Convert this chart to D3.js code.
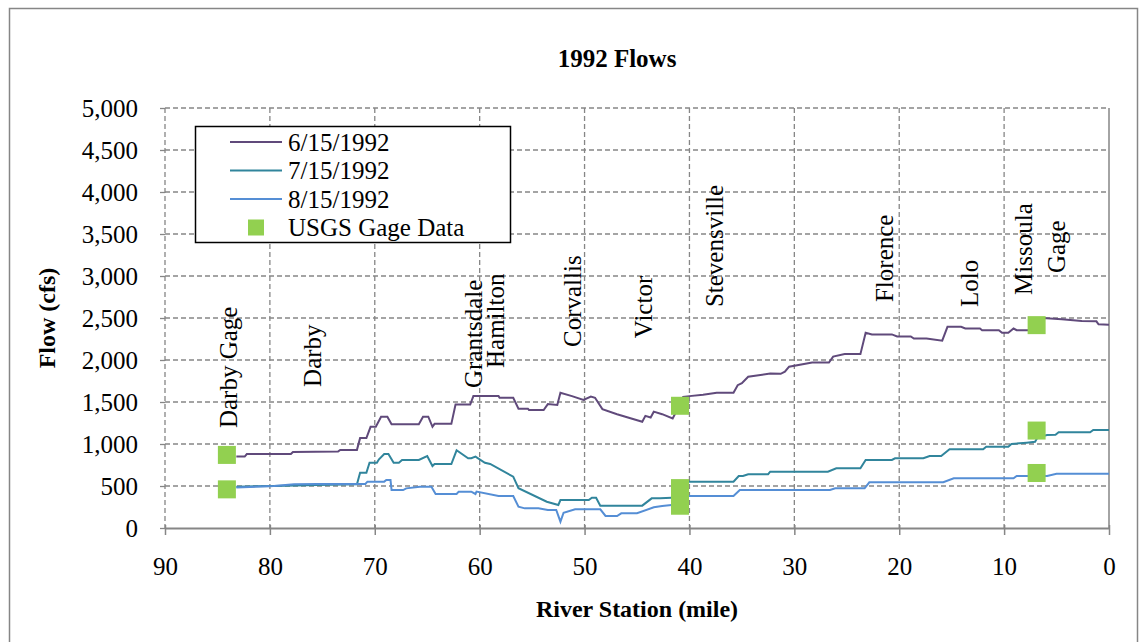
<!DOCTYPE html>
<html>
<head>
<meta charset="utf-8">
<script src="https://cdn.jsdelivr.net/npm/d3@7"></script>
<style>
  body { margin: 0; background: #fff; }
  svg text { font-family: "Liberation Serif", "Times New Roman", serif; }
</style>
</head>
<body>
<div id="chart"></div>
<script>
// river mile / flow (cfs)
const flowJun = [
  [83.2, 850], [82.4, 850], [82.2, 880], [78.0, 880], [77.8, 905], [73.5, 910], [73.3, 930],
  [71.7, 930], [71.4, 1070], [70.8, 1070], [70.4, 1205], [69.9, 1205], [69.4, 1325], [68.8, 1325],
  [68.4, 1235], [65.8, 1235], [65.4, 1325], [64.9, 1325], [64.5, 1205], [64.3, 1240], [62.7, 1240],
  [62.3, 1470], [60.9, 1470], [60.6, 1570], [58.2, 1570], [58.1, 1550], [56.8, 1550], [56.3, 1420],
  [55.4, 1420], [55.3, 1405], [53.9, 1405], [53.5, 1475], [52.6, 1465], [52.3, 1610], [51.2, 1570],
  [50.1, 1525], [49.4, 1565], [49.0, 1550], [48.3, 1415], [46.9, 1355], [44.5, 1265], [44.2, 1335],
  [43.7, 1315], [43.4, 1385], [42.6, 1355], [41.6, 1305], [41.0, 1450], [40.6, 1560], [40.0, 1570],
  [38.7, 1585], [37.4, 1610], [35.8, 1610], [35.4, 1700], [35.0, 1725], [34.4, 1800], [32.3, 1840],
  [31.3, 1835], [30.9, 1860], [30.5, 1920], [28.3, 1970], [26.7, 1970], [26.3, 2040], [25.2, 2070],
  [23.7, 2070], [23.2, 2325], [22.6, 2305], [20.7, 2305], [20.2, 2280], [18.9, 2280], [18.6, 2255],
  [17.4, 2255], [15.9, 2230], [15.4, 2395], [14.1, 2395], [13.7, 2375], [12.3, 2375], [12.1, 2355],
  [10.5, 2355], [10.2, 2325], [9.6, 2325], [9.1, 2375], [8.8, 2355], [7.8, 2355], [6.5, 2360],
  [6.3, 2500], [4.5, 2485], [2.6, 2465], [1.2, 2460], [1.0, 2425], [0, 2420]
];
const flowJul = [
  [83.2, 492], [79.6, 500], [75.5, 512], [71.7, 520], [71.4, 658], [70.8, 658], [70.5, 777],
  [69.8, 777], [69.6, 818], [69.1, 880], [68.7, 880], [68.2, 777], [67.7, 777], [67.4, 810],
  [65.8, 810], [65.0, 857], [64.5, 738], [64.3, 762], [62.7, 762], [62.2, 925], [61.1, 830],
  [60.8, 830], [60.4, 849], [59.5, 777], [59.0, 762], [56.8, 611], [56.3, 473], [53.6, 313],
  [52.5, 274], [52.3, 333], [49.6, 333], [49.3, 361], [48.9, 361], [48.5, 266], [44.5, 266],
  [43.6, 353], [42.8, 353], [41.7, 361], [40.8, 365], [40.6, 550], [35.8, 551], [35.3, 619],
  [34.9, 619], [34.4, 640], [32.5, 640], [32.3, 670], [26.8, 670], [26.0, 710], [23.7, 710],
  [23.2, 810], [20.7, 810], [20.4, 830], [17.7, 830], [17.1, 857], [16.0, 857], [15.2, 937],
  [12.0, 937], [11.7, 968], [9.6, 968], [9.3, 1000], [7.85, 1016], [7.05, 1027], [6.8, 1080],
  [5.9, 1107], [5.1, 1110], [4.8, 1139], [1.8, 1139], [1.5, 1167], [0, 1167]
];
const flowAug = [
  [83.2, 482], [79.6, 500], [77.7, 520], [75.5, 524], [70.9, 524], [70.7, 552], [69.1, 552],
  [68.9, 571], [68.5, 571], [68.4, 452], [67.3, 452], [67.0, 472], [65.7, 492], [64.6, 492],
  [64.2, 405], [62.2, 405], [62.0, 433], [60.8, 433], [60.4, 405], [60.3, 433], [58.2, 381],
  [56.8, 381], [56.3, 254], [55.7, 234], [54.4, 234], [53.5, 214], [52.7, 214], [52.3, 75],
  [52.0, 182], [50.9, 222], [48.5, 222], [48.0, 143], [46.9, 143], [46.5, 175], [45.0, 175],
  [43.4, 246], [42.6, 262], [41.7, 274], [40.8, 280], [40.5, 381], [35.8, 381], [35.2, 452],
  [26.6, 452], [26.1, 472], [23.3, 472], [22.85, 544], [15.8, 544], [14.8, 591], [9.1, 591],
  [8.8, 619], [5.9, 619], [5.0, 645], [0, 645]
];
const gageData = [
  [84.1, 870], [84.1, 460], [40.9, 1455], [40.9, 475], [40.9, 265],
  [6.9, 2415], [6.9, 1160], [6.9, 655]
];
// town labels: name, river mile, flow at label foot
const places = [
  ["Darby Gage", 84.0, 1190], ["Darby", 76.0, 1680], ["Grantsdale", 60.6, 1667],
  ["Hamilton", 58.5, 1905], ["Corvallis", 51.2, 2155], ["Victor", 44.4, 2260],
  ["Stevensville", 37.6, 2630], ["Florence", 21.4, 2690], ["Lolo", 13.3, 2630],
  ["Missoula", 8.2, 2775], ["Gage", 5.0, 3035]
];
const xTicks = [90, 80, 70, 60, 50, 40, 30, 20, 10, 0];
const yTicks = [0, 500, 1000, 1500, 2000, 2500, 3000, 3500, 4000, 4500, 5000];

const series = [
  {name: "6/15/1992", data: flowJun, color: "#604a7b"},
  {name: "7/15/1992", data: flowJul, color: "#31859c"},
  {name: "8/15/1992", data: flowAug, color: "#558ed5"}
];
const gageColor = "#92d050";
const gridColor = "#868686";
const serif = "Liberation Serif";

const W = 1146, H = 642;
const m = {l: 165, r: 1109, t: 108, b: 528};

const svg = d3.select("#chart").append("svg")
  .attr("width", W).attr("height", H);

// outer chart border
svg.append("rect")
  .attr("x", 9.5).attr("y", 8.5).attr("width", 1128).attr("height", 660)
  .attr("fill", "none").attr("stroke", gridColor).attr("stroke-width", 1.5);

const x = d3.scaleLinear().domain([90, 0]).range([m.l, m.r]);
const y = d3.scaleLinear().domain([0, 5000]).range([m.b, m.t]);

// gridlines
const grid = svg.append("g").attr("stroke", gridColor).attr("stroke-width", 1.3)
  .attr("stroke-dasharray", "5,3");
grid.selectAll(".hg").data(yTicks.filter(d => d > 0)).enter().append("line")
  .attr("x1", m.l).attr("x2", m.r).attr("y1", d => y(d)).attr("y2", d => y(d));
grid.selectAll(".vg").data(xTicks.filter(d => d > 0)).enter().append("line")
  .attr("y1", m.t).attr("y2", m.b).attr("x1", d => x(d)).attr("x2", d => x(d));

// right edge and bottom axis
svg.append("line").attr("x1", m.r).attr("x2", m.r).attr("y1", m.t).attr("y2", m.b)
  .attr("stroke", gridColor).attr("stroke-width", 1.5);

const xAxis = svg.append("g").attr("transform", "translate(0," + m.b + ")")
  .call(d3.axisBottom(x).tickValues(xTicks).tickSize(7).tickPadding(22).tickSizeOuter(0));
xAxis.select(".domain").attr("stroke", gridColor).attr("stroke-width", 2);
xAxis.selectAll(".tick line").attr("stroke", gridColor).attr("stroke-width", 1.5).attr("y1", -3);
xAxis.selectAll("text").attr("font-size", 25).attr("fill", "#000")
  .attr("font-family", serif);

const yAxis = svg.append("g").attr("transform", "translate(" + m.l + ",0)")
  .call(d3.axisLeft(y).tickValues(yTicks).tickSize(5).tickPadding(22)
    .tickFormat(d3.format(",")));
yAxis.select(".domain").remove();
yAxis.selectAll(".tick line").attr("stroke", gridColor).attr("stroke-width", 1.3);
yAxis.selectAll("text").attr("font-size", 25).attr("fill", "#000")
  .attr("font-family", serif);

// lines
const line = d3.line().x(d => x(d[0])).y(d => y(d[1]));
svg.selectAll(".series").data(series).enter().append("path")
  .attr("d", d => line(d.data))
  .attr("fill", "none")
  .attr("stroke", d => d.color)
  .attr("stroke-width", 2);

// gage squares
const sq = 18;
svg.selectAll(".gage").data(gageData).enter().append("rect")
  .attr("x", d => x(d[0]) - sq / 2).attr("y", d => y(d[1]) - sq / 2)
  .attr("width", sq).attr("height", sq).attr("fill", gageColor);

// place labels
svg.selectAll(".place").data(places).enter().append("text")
  .attr("transform", d => "translate(" + x(d[1]) + "," + y(d[2]) + ") rotate(-90)")
  .attr("dy", "0.35em")
  .attr("font-family", serif)
  .attr("font-size", 25)
  .text(d => d[0]);

// titles
svg.append("text").attr("x", 617).attr("y", 67).attr("text-anchor", "middle")
  .attr("font-family", serif)
  .attr("font-size", 25).attr("font-weight", "bold").text("1992 Flows");
svg.append("text").attr("x", 637).attr("y", 617).attr("text-anchor", "middle")
  .attr("font-family", serif)
  .attr("font-size", 24).attr("font-weight", "bold").text("River Station (mile)");
svg.append("text").attr("transform", "translate(55,318) rotate(-90)")
  .attr("text-anchor", "middle")
  .attr("font-family", serif)
  .attr("font-size", 24).attr("font-weight", "bold").text("Flow (cfs)");

// legend
const leg = svg.append("g").attr("transform", "translate(195,126)");
leg.append("rect").attr("x", 0.5).attr("y", 0.5).attr("width", 315).attr("height", 116)
  .attr("fill", "#fff").attr("stroke", "#000").attr("stroke-width", 1.5);
const rows = series.map(s => ({name: s.name, color: s.color, kind: "line"}))
  .concat([{name: "USGS Gage Data", color: gageColor, kind: "square"}]);
const row = leg.selectAll(".row").data(rows).enter().append("g")
  .attr("transform", (d, i) => "translate(0," + (16 + i * 28.5) + ")");
row.filter(d => d.kind === "line").append("line")
  .attr("x1", 35).attr("x2", 87).attr("stroke", d => d.color).attr("stroke-width", 2);
row.filter(d => d.kind === "square").append("rect")
  .attr("x", 53).attr("y", -8).attr("width", 16).attr("height", 16).attr("fill", d => d.color);
row.append("text").attr("x", 93).attr("dy", "0.35em").attr("font-size", 25)
  .attr("font-family", serif)
  .text(d => d.name);
</script>
</body>
</html>
